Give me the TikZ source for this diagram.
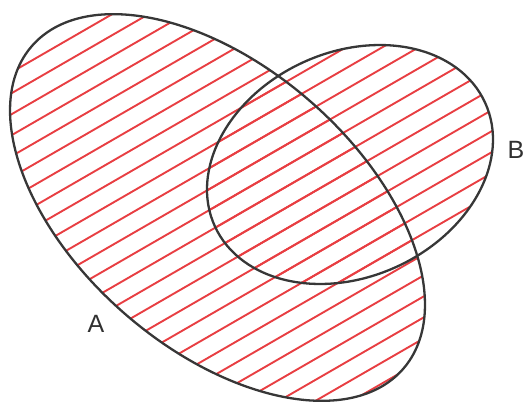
\documentclass[tikz,border=0pt]{standalone}
\usepackage{fontspec}
\setmainfont{Liberation Sans}
\definecolor{hatchred}{RGB}{232,62,66}
\definecolor{edgegray}{RGB}{55,55,55}
\tikzset{
  hatchline/.style={hatchred, line width=1.9pt},
  setedge/.style={edgegray, line width=2.3pt},
  setlabel/.style={font=\fontsize{25}{28}\selectfont, text=edgegray!90!black, inner sep=0pt}
}
\begin{document}
\begin{tikzpicture}[x=1pt,y=1pt]
\path[use as bounding box] (0,0) rectangle (525,403);
\coordinate (ca) at (217.5,195.5);
\coordinate (cb) at (350,238.5);
% hatching of A
\begin{scope}
  \clip[rotate around={-41:(ca)}] (ca) ellipse [x radius=246, y radius=141];
  \foreach \k in {-24,...,18}
    \draw[hatchline] (-50,{114.1-28.85+\k*21}) -- (600,{114.1+346.2+\k*21});
\end{scope}
% hatching of B
\begin{scope}
  \clip[rotate around={24.6:(cb)}] (cb) ellipse [x radius=148.6, y radius=112.4];
  \foreach \k in {-24,...,18}
    \draw[hatchline] (-50,{114.1-28.85+\k*21}) -- (600,{114.1+346.2+\k*21});
\end{scope}
% outlines
\draw[setedge, rotate around={-41:(ca)}] (ca) ellipse [x radius=246, y radius=141];
\draw[setedge, rotate around={24.6:(cb)}] (cb) ellipse [x radius=148.6, y radius=112.4];
% labels
\node[setlabel] (la) at (96,79) {A};
\node[setlabel, anchor=east] (lb) at (524.5,253.5) {B};
\end{tikzpicture}
\end{document}
